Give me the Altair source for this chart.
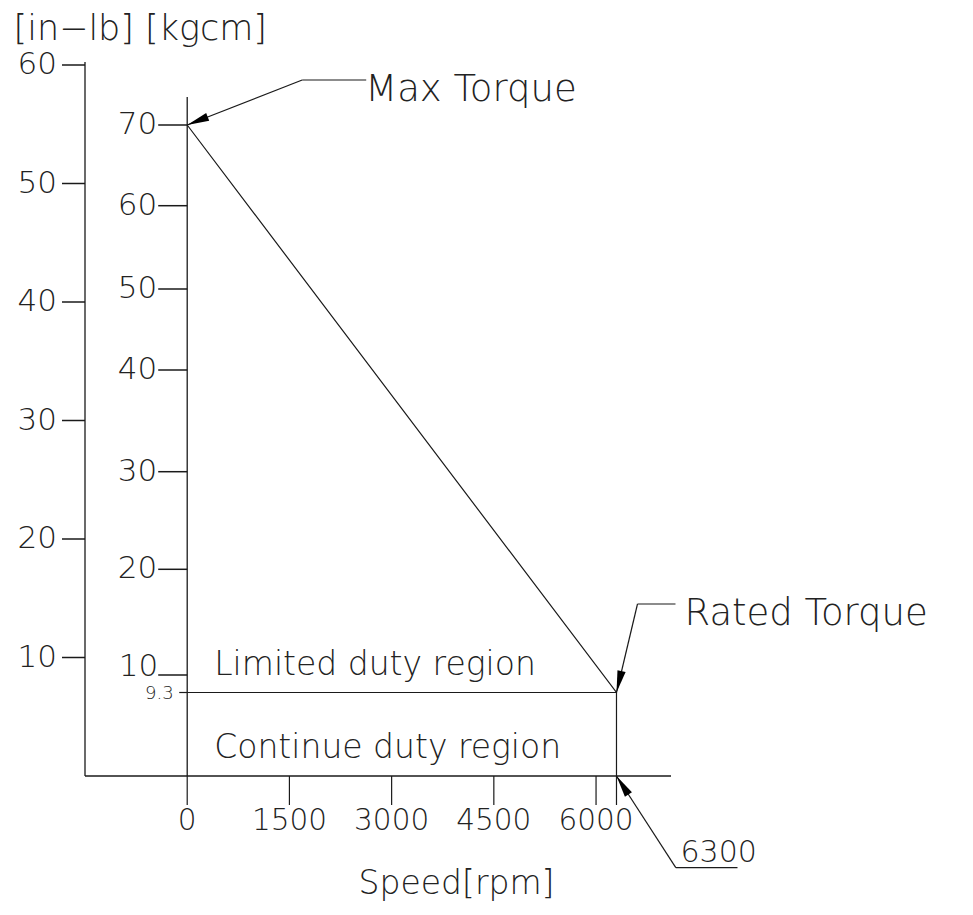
import altair as alt
import pandas as pd

# ---------------- data ----------------
inlb_ticks = [10, 20, 30, 40, 50, 60]
kgcm_ticks = [10, 20, 30, 40, 50, 60, 70]
rated_kgcm = 9.3
speed_ticks = [0, 1500, 3000, 4500, 6000, 6300]
speed_label_values = [0, 1500, 3000, 4500, 6000]
speed_label_text = ["0", "1500", "3000", "4500", "6000"]
curve_speed = [0, 6300, 6300]
curve_torque = [70, 9.3, 0]
region_labels = ["Limited duty region", "Continue duty region"]
region_kgcm = [9.3, 0]
speed_range = [-1500, 7100]
inlb_range = [0, 60]
x_title = "Speed[rpm]"
y_title = "[in−lb] [kgcm]"
# the kgcm scale is not drawn to scale in the sketch: breakpoints of the drawn axis
kgcm_breaks = [0, 9.3, 10, 20, 30, 40, 50, 60, 70]

# ---------------- layout / style ----------------
W, H = 586, 711
KG_PIX = [711, 627.5, 610, 504.3, 406.7, 305, 224, 140.7, 60]
LINE = "#1a1a1a"
TXT = "#222222"
FONT = "DejaVu Sans"
FW = 200
ARROW = "M0,0L-0.38,2L0.38,2Z"

XS = alt.Scale(domain=speed_range, nice=False, zero=False)
Y_IN = alt.Scale(domain=inlb_range, range=[H, 0], nice=False, zero=False)
Y_KG = alt.Scale(domain=kgcm_breaks, range=KG_PIX, nice=False, zero=False)


def X(f):
    return alt.X(f + ":Q", scale=XS, axis=None)


def YK(f):
    return alt.Y(f + ":Q", scale=Y_KG, axis=None)


def YI(f):
    return alt.Y(f + ":Q", scale=Y_IN, axis=None)


def txt(**kw):
    base = dict(font=FONT, fontWeight=FW, color=TXT)
    base.update(kw)
    return base


layers = []

# x axis line
df = pd.DataFrame({"x0": [speed_range[0]], "x1": [speed_range[1]], "y": [0]})
layers.append(
    alt.Chart(df).mark_rule(color=LINE, strokeWidth=1.3).encode(
        x=X("x0"), x2="x1", y=YK("y"))
)

# x axis title
df = pd.DataFrame({"t": [x_title]})
layers.append(
    alt.Chart(df).mark_text(**txt(align="center", baseline="alphabetic", fontSize=33)).encode(
        x=alt.value(371.5), y=alt.value(H + 118), text="t:N")
)

# outer in-lb axis line (+ combined units title)
df = pd.DataFrame({"x": [speed_range[0]], "y0": [inlb_range[0]], "y1": [inlb_range[1]]})
layers.append(
    alt.Chart(df).mark_rule(color=LINE, strokeWidth=1.3, y2Offset=-3).encode(
        x=X("x"),
        y=alt.Y("y0:Q", scale=Y_IN, axis=alt.Axis(
            title=y_title, domain=False, ticks=False, labels=False, grid=False,
            titleAngle=0, titleFont=FONT, titleFontSize=35, titleFontWeight=FW, titleColor=TXT,
            titleX=-72, titleY=-26, titleAlign="left", titleBaseline="alphabetic")),
        y2="y1")
)

# outer ticks + labels
df = pd.DataFrame({"x": speed_range[0], "v": inlb_ticks, "t": [str(v) for v in inlb_ticks]})
layers.append(
    alt.Chart(df).mark_rule(color=LINE, strokeWidth=1.5, x2Offset=-23).encode(
        x=X("x"), x2="x", y=YI("v"))
)
layers.append(
    alt.Chart(df).mark_text(**txt(align="right", baseline="middle", dx=-28, fontSize=31)).encode(
        x=X("x"), y=YI("v"), text="t:N")
)

# inner kgcm axis line
df = pd.DataFrame({"x": [0], "y0": [0], "y1": [max(kgcm_ticks)]})
layers.append(
    alt.Chart(df).mark_rule(color=LINE, strokeWidth=1.3, y2Offset=-28).encode(
        x=X("x"), y=YK("y0"), y2="y1")
)

# inner ticks + labels (the lowest label sits a little above its tick)
df = pd.DataFrame({"x": 0, "v": kgcm_ticks, "t": [str(v) for v in kgcm_ticks]})
low = min(kgcm_ticks)
layers.append(
    alt.Chart(df).mark_rule(color=LINE, strokeWidth=1.5, x2Offset=-29).encode(
        x=X("x"), x2="x", y=YK("v"))
)
layers.append(
    alt.Chart(df).transform_filter(alt.datum.v > low).mark_text(
        **txt(align="right", baseline="middle", dx=-30, fontSize=31)).encode(
        x=X("x"), y=YK("v"), text="t:N")
)
layers.append(
    alt.Chart(df).transform_filter(alt.datum.v == low).mark_text(
        **txt(align="right", baseline="middle", dx=-29, dy=-8, fontSize=31)).encode(
        x=X("x"), y=YK("v"), text="t:N")
)

# rated torque level tick + label
df = pd.DataFrame({"x": [0], "v": [rated_kgcm], "t": [str(rated_kgcm)]})
layers.append(
    alt.Chart(df).mark_rule(color=LINE, strokeWidth=1.2, x2Offset=-8).encode(
        x=X("x"), x2="x", y=YK("v"))
)
layers.append(
    alt.Chart(df).mark_text(**txt(align="right", baseline="middle", dx=-13.5, dy=1, fontSize=18)).encode(
        x=X("x"), y=YK("v"), text="t:N")
)

# speed ticks + labels
df = pd.DataFrame({"v": speed_ticks, "y": 0})
layers.append(
    alt.Chart(df).mark_rule(color=LINE, strokeWidth=1.2, y2Offset=29).encode(
        x=X("v"), y=YK("y"), y2="y")
)
df = pd.DataFrame({"v": speed_label_values, "y": 0, "t": speed_label_text})
layers.append(
    alt.Chart(df).mark_text(**txt(align="center", baseline="alphabetic", dy=54, fontSize=29.5)).encode(
        x=X("v"), y=YK("y"), text="t:N")
)

# rated torque horizontal line (boundary of the regions)
df = pd.DataFrame({"x0": [0], "x1": [curve_speed[1]], "y": [rated_kgcm]})
layers.append(
    alt.Chart(df).mark_rule(color=LINE, strokeWidth=1.2).encode(x=X("x0"), x2="x1", y=YK("y"))
)

# torque-speed curve
df = pd.DataFrame({"rpm": curve_speed, "kgcm": curve_torque, "i": range(len(curve_speed))})
layers.append(
    alt.Chart(df).mark_line(color=LINE, strokeWidth=1.2).encode(
        x=X("rpm"), y=YK("kgcm"), order="i:Q")
)

# region labels
df = pd.DataFrame({"x": 0, "y": region_kgcm, "t": region_labels})
layers.append(
    alt.Chart(df).mark_text(**txt(align="left", baseline="alphabetic", dx=27, dy=-18, fontSize=33)).encode(
        x=X("x"), y=YK("y"), text="t:N")
)


# leader annotations
def leader(rpm, kgcm, label, ex, ey, hx, tdx, tdy, fs, ang):
    d = pd.DataFrame({"x": [rpm], "y": [kgcm], "t": [label]})
    out = []
    out.append(alt.Chart(d).mark_rule(color=LINE, strokeWidth=1.2, x2Offset=ex, y2Offset=ey).encode(
        x=X("x"), y=YK("y"), x2="x", y2="y"))
    out.append(alt.Chart(d).mark_rule(color=LINE, strokeWidth=1.2, xOffset=ex, yOffset=ey,
                                      x2Offset=hx, y2Offset=ey).encode(
        x=X("x"), y=YK("y"), x2="x", y2="y"))
    out.append(alt.Chart(d).mark_point(shape=ARROW, size=484, filled=True, color="#000000",
                                       opacity=1, strokeWidth=0, angle=ang).encode(
        x=X("x"), y=YK("y")))
    out.append(alt.Chart(d).mark_text(**txt(align="left", baseline="alphabetic", dx=tdx, dy=tdy,
                                             fontSize=fs)).encode(
        x=X("x"), y=YK("y"), text="t:N"))
    return out


layers += leader(curve_speed[0], curve_torque[0], "Max Torque", 115, -45, 179, 178, -24, 37, 248.6)
layers += leader(curve_speed[1], curve_torque[1], "Rated Torque", 21, -88.5, 59, 68, -67.5, 37, 193.3)
layers += leader(curve_speed[2], curve_torque[2], "6300", 59.3, 91.7, 121, 64, 85.7, 30, 327.1)

chart = alt.layer(*layers).resolve_scale(y="independent").properties(
    width=W, height=H,
    autosize=alt.AutoSizeParams(type="none"),
    padding={"left": 77, "top": 57, "right": 287, "bottom": 126},
).configure_view(stroke=None)

chart.save("out.html", embed_options={"renderer": "svg", "actions": False})
